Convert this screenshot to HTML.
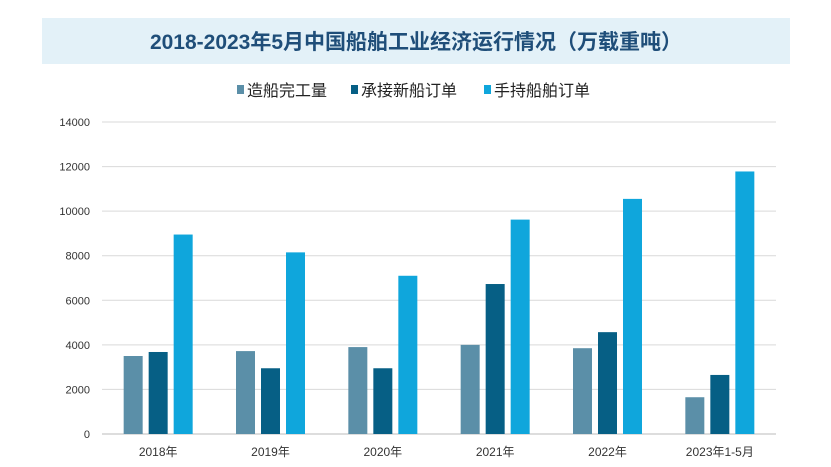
<!DOCTYPE html>
<html><head><meta charset="utf-8"><style>
body{margin:0;width:831px;height:467px;background:#fff;overflow:hidden;font-family:"Liberation Sans","Noto Sans CJK SC",sans-serif}
</style></head><body>
<svg width="831" height="467" style="position:absolute;left:0;top:0">
<rect x="42" y="18" width="748" height="46" fill="#e3f1f8"/>
<text x="416" y="49" text-anchor="middle" font-size="21" font-weight="bold" fill="#1f4e79" font-family="Liberation Sans,Noto Sans CJK SC,sans-serif">2018-2023年5月中国船舶工业经济运行情况（万载重吨）</text>
<g id="legend" font-size="16" fill="#222" font-family="Liberation Sans,Noto Sans CJK SC,sans-serif"></g>
<g id="grid"></g>
<g id="bars"></g>
<g id="xlabels" font-size="12" fill="#333"></g>
</svg>
<script>
const categories=["2018年","2019年","2020年","2021年","2022年","2023年1-5月"];
const completed=[3500,3720,3900,4000,3850,1650];
const newOrders=[3680,2950,2950,6730,4570,2650];
const holding=[8950,8150,7100,9620,10550,11780];
const seriesNames=["造船完工量","承接新船订单","手持船舶订单"];
const colors=["#5b8fa8","#065f85","#0fa6dc"];
const yTicks=[0,2000,4000,6000,8000,10000,12000,14000];
const NS="http://www.w3.org/2000/svg";
const x0=102,x1=776,yb=434,yt=122,ymax=14000;
const y=v=>yb-(v/ymax)*(yb-yt);
const band=(x1-x0)/categories.length;
const xc=i=>x0+band*(i+0.5);
function mk(t,a,p){const e=document.createElementNS(NS,t);for(const k in a)e.setAttribute(k,a[k]);p.appendChild(e);return e;}
const grid=document.getElementById('grid');
yTicks.forEach(v=>{
 const l=mk('line',{x1:x0,x2:x1,y1:y(v),y2:y(v),stroke:v===0?'#bbb':'#d9d9d9','stroke-width':1},grid);
 
 
 const t=mk('text',{x:90,y:y(v)+4,'text-anchor':'end','font-size':11,fill:'#333'},grid);
 t.textContent=v;
 
 
});
const bars=document.getElementById('bars');
const series=[completed,newOrders,holding];
const bw=19,gap=6;
categories.forEach((c,i)=>{
 series.forEach((s,j)=>{
  const bx=xc(i)+(j-1)*(bw+gap)-bw/2;
  const r=mk('rect',{x:bx,y:y(s[i]),width:bw,height:yb-y(s[i]),fill:colors[j]},bars);
  
  
 });
 const t=mk('text',{x:xc(i),y:456,'text-anchor':'middle'},document.getElementById('xlabels'));
 t.textContent=c;
 
 
});
const lg=document.getElementById('legend');
const lx=[237,351,484];
seriesNames.forEach((n,j)=>{
 const r=mk('rect',{x:lx[j],y:85,width:7,height:9,fill:colors[j]},lg);
 
 
 const t=mk('text',{x:lx[j]+10,y:96},lg);
 t.textContent=n;
 
 
});
</script>
</body></html>
